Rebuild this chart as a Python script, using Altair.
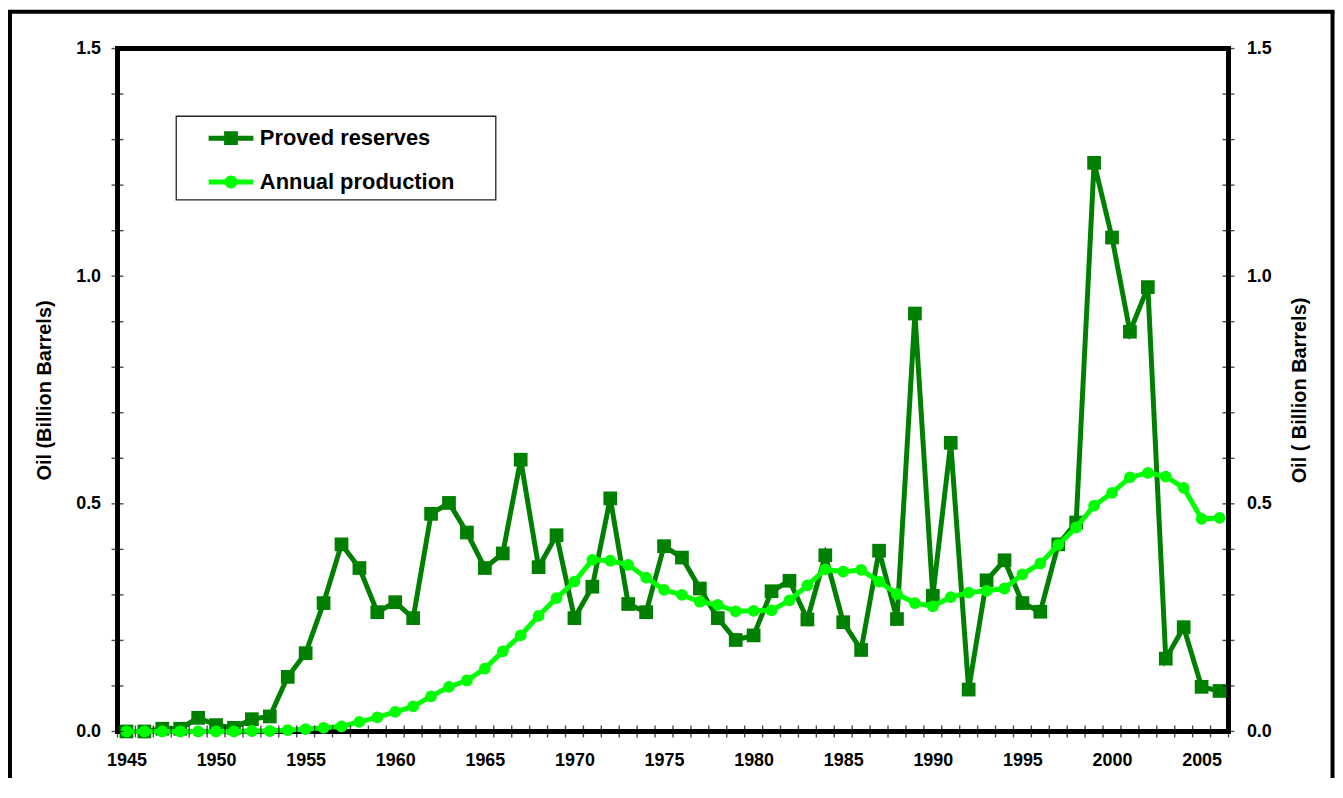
import altair as alt
import pandas as pd

# ---------------- data ----------------
years = list(range(1945, 2007))

proved_reserves = [
    0.0, 0.0, 0.006, 0.006, 0.030, 0.014, 0.008, 0.027, 0.033, 0.120,
    0.172, 0.282, 0.411, 0.359, 0.262, 0.284, 0.249, 0.478, 0.502, 0.437,
    0.359, 0.391, 0.597, 0.361, 0.431, 0.249, 0.318, 0.512, 0.280, 0.262,
    0.407, 0.382, 0.314, 0.249, 0.201, 0.211, 0.308, 0.331, 0.246, 0.387,
    0.240, 0.179, 0.397, 0.247, 0.918, 0.298, 0.634, 0.092, 0.332, 0.376,
    0.282, 0.263, 0.411, 0.459, 1.249, 1.085, 0.878, 0.976, 0.160, 0.229,
    0.098, 0.089,
]

annual_production = [
    0.0, 0.0, 0.0, 0.0, 0.0, 0.0, 0.0, 0.001, 0.001, 0.003,
    0.005, 0.008, 0.011, 0.021, 0.031, 0.043, 0.055, 0.077, 0.098, 0.112,
    0.138, 0.176, 0.211, 0.254, 0.293, 0.329, 0.377, 0.375, 0.366, 0.338,
    0.311, 0.300, 0.285, 0.278, 0.264, 0.265, 0.266, 0.288, 0.321, 0.356,
    0.351, 0.355, 0.329, 0.302, 0.282, 0.275, 0.295, 0.305, 0.309, 0.314,
    0.345, 0.369, 0.410, 0.448, 0.496, 0.524, 0.558, 0.568, 0.560, 0.535,
    0.467, 0.469,
]

series_names = ["Proved reserves", "Annual production"]
x_label_years = [1945, 1950, 1955, 1960, 1965, 1970, 1975, 1980, 1985, 1990, 1995, 2000, 2005]
y_label_values = [0.0, 0.5, 1.0, 1.5]
y_minor_ticks = [0.0, 0.1, 0.2, 0.3, 0.4, 0.5, 0.6, 0.7, 0.8, 0.9, 1.0, 1.1, 1.2, 1.3, 1.4, 1.5]
x_minor_ticks = [y - 0.5 for y in years] + [years[-1] + 0.5]

res_df = pd.DataFrame({"Year": years, "Value": proved_reserves, "Series": series_names[0]})
prod_df = pd.DataFrame({"Year": years, "Value": annual_production, "Series": series_names[1]})
all_df = pd.concat([res_df, prod_df], ignore_index=True)

DARK = "#008000"
LIGHT = "#00FF00"
FONT = "Liberation Sans"

xscale = alt.Scale(domain=[years[0] - 0.5, years[-1] + 0.5], nice=False, zero=False)
yscale = alt.Scale(domain=[0, 1.5], nice=False, zero=True)

x_axis = alt.Axis(values=x_label_years, format="d", ticks=False, domain=False, grid=False,
                  labelFont=FONT, labelFontSize=18, labelFontWeight="bold", labelColor="black",
                  labelPadding=20, labelFlush=False, title=None)

common_y = dict(values=y_label_values, format=".1f", ticks=False, domain=False, grid=False,
                labelFont=FONT, labelFontSize=18, labelFontWeight="bold", labelColor="black",
                titleFont=FONT, titleFontSize=20, titleFontWeight="bold", titleColor="black")

y_left = alt.Axis(orient="left", title="Oil (Billion Barrels)", labelPadding=17,
                  titlePadding=21, **common_y)
y_right = alt.Axis(orient="right", title="Oil ( Billion Barrels)", labelPadding=18,
                   titlePadding=18, titleAngle=270, titleBaseline="top", **common_y)

X = alt.X("Year:Q", scale=xscale, axis=x_axis)


def Y(axis=None):
    return alt.Y("Value:Q", scale=yscale, axis=axis)


res_line = alt.Chart(res_df).mark_line(color=DARK, strokeWidth=5).encode(x=X, y=Y(y_left))
res_pts = alt.Chart(res_df).mark_point(shape="square", filled=True, size=190, color=DARK,
                                       opacity=1).encode(x=X, y=Y())
prod_line = alt.Chart(prod_df).mark_line(color=LIGHT, strokeWidth=5).encode(x=X, y=Y(y_right))
prod_pts = alt.Chart(prod_df).mark_point(shape="circle", filled=True, size=140, color=LIGHT,
                                         opacity=1).encode(x=X, y=Y())

# axis ticks crossing the axis lines
xt_df = pd.DataFrame({"Year": x_minor_ticks, "Value": [0.0] * len(x_minor_ticks)})
x_ticks = alt.Chart(xt_df).mark_tick(orient="vertical", size=12, thickness=1.4,
                                     color="black").encode(x=X, y=Y())
ytl_df = pd.DataFrame({"Year": [years[0] - 0.5] * len(y_minor_ticks), "Value": y_minor_ticks})
ytr_df = pd.DataFrame({"Year": [years[-1] + 0.5] * len(y_minor_ticks), "Value": y_minor_ticks})
y_ticks_l = alt.Chart(ytl_df).mark_tick(orient="horizontal", size=12, thickness=1.4,
                                        color="black").encode(x=X, y=Y())
y_ticks_r = alt.Chart(ytr_df).mark_tick(orient="horizontal", size=12, thickness=1.4,
                                        color="black").encode(x=X, y=Y())

# legend carrier
path_sq = "M-1.07,-0.12H1.07V0.12H-1.07Z M-0.33,-0.33H0.33V0.33H-0.33Z"
path_ci = "M-1.07,-0.12H1.07V0.12H-1.07Z M0.31,0A0.31,0.31,0,1,1,-0.31,0A0.31,0.31,0,1,1,0.31,0Z"
leg_props = dict(orient="none", legendX=93, legendY=69, title=None, padding=0, rowPadding=12,
                 labelOffset=8, labelLimit=0, symbolSize=1764, symbolStrokeWidth=0,
                 symbolOpacity=1, labelFont=FONT, labelFontSize=22, labelFontWeight="bold",
                 labelColor="black")
legend_layer = alt.Chart(all_df).mark_point(filled=True, opacity=0).encode(
    x=X, y=Y(),
    color=alt.Color("Series:N", scale=alt.Scale(domain=series_names, range=[DARK, LIGHT]),
                    legend=alt.Legend(**leg_props)),
    shape=alt.Shape("Series:N", scale=alt.Scale(domain=series_names, range=[path_sq, path_ci]),
                    legend=alt.Legend(**leg_props)),
)

one = pd.DataFrame({"k": [0]})
legend_box = alt.Chart(one).mark_rect(filled=False, stroke="#222222", strokeWidth=1.3).encode(
    x=alt.value(59), x2=alt.value(380), y=alt.value(68), y2=alt.value(152))

frame_left = alt.Chart(one).mark_rule(color="black", strokeWidth=4).encode(
    x=alt.value(-108), y=alt.value(-37), y2=alt.value(760))
frame_right = alt.Chart(one).mark_rule(color="black", strokeWidth=4).encode(
    x=alt.value(1220.5), y=alt.value(-37), y2=alt.value(760))
frame_top = alt.Chart(one).mark_rule(color="black", strokeWidth=4).encode(
    y=alt.value(-37), x=alt.value(-110), x2=alt.value(1222.5))

chart = alt.layer(
    res_line, res_pts, prod_line, prod_pts, x_ticks, y_ticks_l, y_ticks_r,
    legend_layer, legend_box, frame_left, frame_right, frame_top,
).resolve_scale(y="independent").properties(
    width=1116, height=686,
    padding={"left": 110, "top": 39, "right": 107, "bottom": 45},
    autosize=alt.AutoSizeParams(type="none"),
    background="white",
).configure_view(stroke="black", strokeWidth=5)

chart.save("out.html", embed_options={"renderer": "svg", "actions": False})
